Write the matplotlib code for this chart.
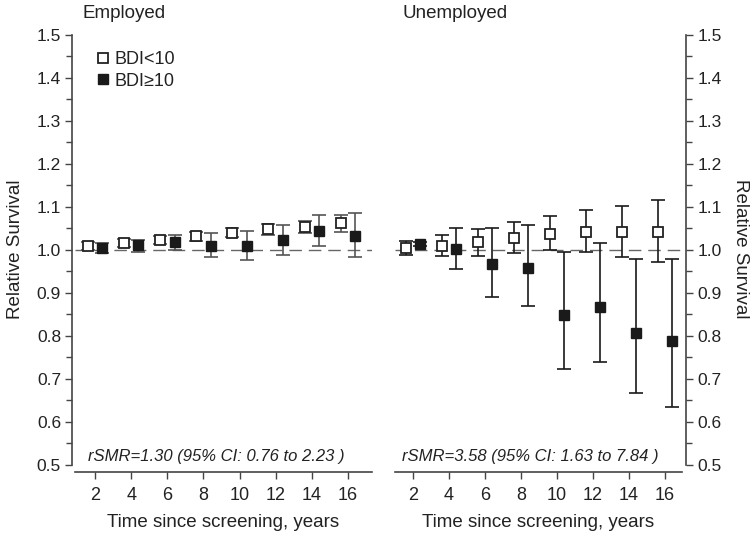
import matplotlib
matplotlib.use("Agg")
import matplotlib.pyplot as plt
from matplotlib.ticker import MultipleLocator
import numpy as np

plt.rcParams['font.family'] = ['Liberation Sans', 'DejaVu Sans']

years = [2, 4, 6, 8, 10, 12, 14, 16]

# Employed
emp_low_val = [1.010, 1.017, 1.023, 1.033, 1.040, 1.049, 1.054, 1.063]
emp_low_lo = [1.000, 1.007, 1.013, 1.022, 1.030, 1.036, 1.039, 1.043]
emp_low_hi = [1.019, 1.026, 1.033, 1.043, 1.050, 1.061, 1.067, 1.081]
emp_high_val = [1.005, 1.012, 1.018, 1.009, 1.010, 1.023, 1.044, 1.033]
emp_high_lo = [0.994, 0.996, 1.000, 0.983, 0.977, 0.988, 1.009, 0.983]
emp_high_hi = [1.016, 1.023, 1.036, 1.039, 1.044, 1.059, 1.081, 1.085]

# Unemployed
une_low_val = [1.005, 1.010, 1.018, 1.027, 1.038, 1.043, 1.041, 1.042]
une_low_lo = [0.988, 0.985, 0.987, 0.992, 0.999, 0.995, 0.983, 0.971]
une_low_hi = [1.022, 1.035, 1.049, 1.064, 1.080, 1.092, 1.102, 1.117]
une_high_val = [1.014, 1.002, 0.967, 0.959, 0.849, 0.867, 0.808, 0.788]
une_high_lo = [1.010, 0.956, 0.890, 0.870, 0.724, 0.740, 0.667, 0.634]
une_high_hi = [1.018, 1.050, 1.052, 1.058, 0.995, 1.016, 0.978, 0.980]

titles = ["Employed", "Unemployed"]
legend_labels = ["BDI<10", "BDI\u226510"]
notes = ["rSMR=1.30 (95% CI: 0.76 to 2.23 )", "rSMR=3.58 (95% CI: 1.63 to 7.84 )"]
xlabel = "Time since screening, years"
ylabel = "Relative Survival"

W, H = 755, 539
fig = plt.figure(figsize=(W / 100, H / 100), dpi=100)

def px_rect(x0, x1, ybot, ytop):
    return [x0 / W, 1 - ybot / H, (x1 - x0) / W, (ybot - ytop) / H]

ax1 = fig.add_axes(px_rect(75, 372, 472, 26.4))
ax2 = fig.add_axes(px_rect(395, 682, 472, 26.4))

axc = '#444444'
txtc = '#222222'

datasets = [
    (ax1, emp_low_val, emp_low_lo, emp_low_hi, emp_high_val, emp_high_lo, emp_high_hi, (0.892, 17.33), '#555555'),
    (ax2, une_low_val, une_low_lo, une_low_hi, une_high_val, une_high_lo, une_high_hi, (1.0, 16.94), '#1a1a1a'),
]

ms = 7.5
off = 0.4
for i, (ax, lv, llo, lhi, hv, hlo, hhi, xl, ecol) in enumerate(datasets):
    x = np.array(years, dtype=float)
    ax.axhline(1.0, color='#666666', lw=1.0, dashes=(9, 5), zorder=1)
    lv = np.array(lv); llo = np.array(llo); lhi = np.array(lhi)
    hv = np.array(hv); hlo = np.array(hlo); hhi = np.array(hhi)
    ax.errorbar(x - off, lv, yerr=[lv - llo, lhi - lv], fmt='none', ecolor=ecol,
                elinewidth=1.2, capsize=5, capthick=1.2, zorder=2)
    ax.plot(x - off, lv, 's', ms=ms, mfc='white', mec='#222222', mew=1.3, zorder=3)
    ax.errorbar(x + off, hv, yerr=[hv - hlo, hhi - hv], fmt='none', ecolor=ecol,
                elinewidth=1.2, capsize=5, capthick=1.2, zorder=2)
    ax.plot(x + off, hv, 's', ms=ms, mfc='#1a1a1a', mec='#1a1a1a', mew=1.0, zorder=3)

    ax.set_xlim(*xl)
    ax.set_ylim(0.4837, 1.52)
    ax.set_xticks(years)
    ax.yaxis.set_major_locator(MultipleLocator(0.1))
    ax.yaxis.set_minor_locator(MultipleLocator(0.05))
    ax.yaxis.set_major_formatter(matplotlib.ticker.FormatStrFormatter('%.1f'))
    ax.spines['top'].set_visible(False)
    ax.spines['bottom'].set_color(axc)
    ax.spines['bottom'].set_linewidth(1.2)
    ax.tick_params(axis='x', direction='out', length=5, width=1.0, colors=axc,
                   labelcolor=txtc, labelsize=13, pad=6)
    ax.tick_params(axis='y', which='major', direction='out', length=5, width=1.0,
                   colors=axc, labelcolor=txtc, labelsize=12.5, pad=3)
    ax.tick_params(axis='y', which='minor', direction='out', length=4, width=1.0, colors=axc)
    ax.set_xlabel(xlabel, fontsize=13.5, color=txtc, labelpad=7)
    ax.text(0.5 * (years[0] + years[-1]) - 0.3 if i == 0 else 0.5 * (years[0] + years[-1]) - 0.5,
            0.52, notes[i], fontsize=12, style='italic', color=txtc,
            ha='center', va='center')
    if i == 0:
        ax.spines['right'].set_visible(False)
        ax.spines['left'].set_bounds(0.5, 1.5)
        ax.spines['left'].set_position(('outward', 2))
        ax.spines['left'].set_color(axc)
        ax.spines['left'].set_linewidth(1.2)
        ax.set_ylabel(ylabel, fontsize=13.5, color=txtc, labelpad=9)
    else:
        ax.spines['left'].set_visible(False)
        ax.spines['right'].set_bounds(0.5, 1.5)
        ax.spines['right'].set_position(('outward', 3))
        ax.spines['right'].set_color(axc)
        ax.spines['right'].set_linewidth(1.2)
        ax.yaxis.tick_right()
        ax.yaxis.set_label_position('right')
        ax.set_ylabel(ylabel, fontsize=13.5, color=txtc, rotation=270, labelpad=20)
        ax.tick_params(axis='y', which='both', left=False, right=True)

fig.text(83 / W, 1 - 13 / H, titles[0], fontsize=13.5, color=txtc, ha='left', va='center')
fig.text(403 / W, 1 - 13 / H, titles[1], fontsize=13.5, color=txtc, ha='left', va='center')

# legend
h_open = ax1.plot([], [], 's', ms=ms, mfc='white', mec='#222222', mew=1.3)[0]
h_fill = ax1.plot([], [], 's', ms=ms, mfc='#1a1a1a', mec='#1a1a1a')[0]
leg = ax1.legend([h_open, h_fill], legend_labels, loc='upper left',
                 bbox_to_anchor=(0.047, 0.965), frameon=False, fontsize=13,
                 handlelength=0.6, handletextpad=0.3, labelspacing=0.25, borderpad=0)
for t in leg.get_texts():
    t.set_color(txtc)

fig.savefig('out.png', dpi=100)
